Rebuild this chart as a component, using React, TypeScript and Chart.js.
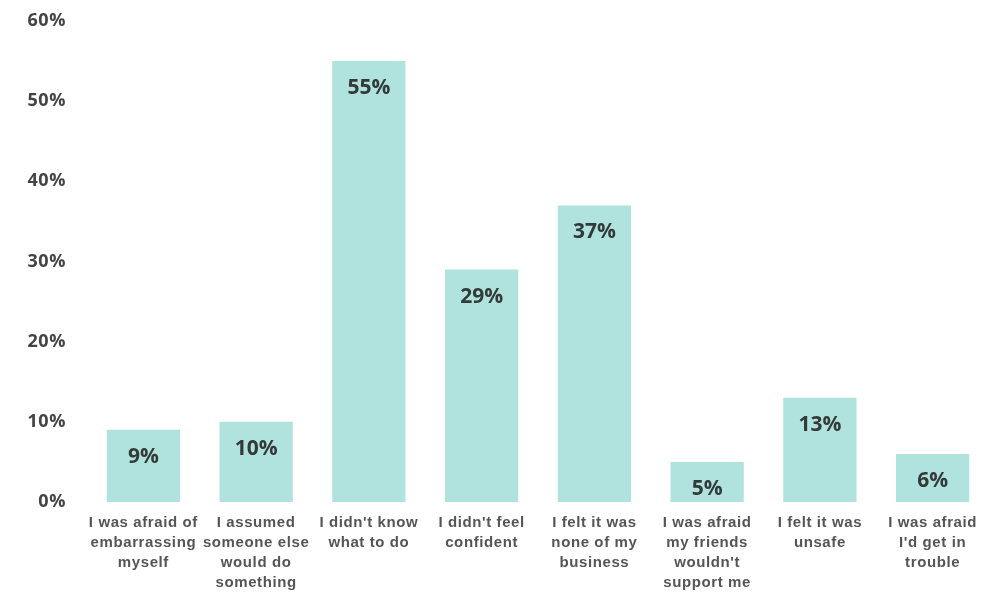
import React, { useEffect, useRef } from "react";
import { Chart, registerables } from "chart.js";

Chart.register(...registerables);

const categories: string[][] = [
  ["I was afraid of", "embarrassing", "myself"],
  ["I assumed", "someone else", "would do", "something"],
  ["I didn't know", "what to do"],
  ["I didn't feel", "confident"],
  ["I felt it was", "none of my", "business"],
  ["I was afraid", "my friends", "wouldn't", "support me"],
  ["I felt it was", "unsafe"],
  ["I was afraid", "I'd get in", "trouble"],
];

const values: number[] = [9, 10, 55, 29, 37, 5, 13, 6];

const yTicks: number[] = [0, 10, 20, 30, 40, 50, 60];

const spacingPlugin = {
  id: "spacing",
  beforeDraw(chart: any) {
    (chart.ctx as any).letterSpacing = "0.6px";
  },
};

const valueLabelPlugin = {
  id: "valueLabels",
  afterDatasetsDraw(chart: any) {
    const ctx = chart.ctx;
    const meta = chart.getDatasetMeta(0);
    ctx.save();
    (ctx as any).letterSpacing = "0px";
    ctx.font = "bold 21px 'Open Sans'";
    ctx.fillStyle = "#333a3a";
    ctx.textAlign = "center";
    ctx.textBaseline = "middle";
    meta.data.forEach((bar: any, i: number) => {
      ctx.fillText(values[i] + "%", bar.x, bar.y + 27);
    });
    ctx.restore();
  },
};

export default function App() {
  const ref = useRef<HTMLCanvasElement | null>(null);

  useEffect(() => {
    if (!ref.current) return;
    const chart = new Chart(ref.current, {
      type: "bar",
      data: {
        labels: categories,
        datasets: [
          {
            data: values,
            backgroundColor: "#b1e3de",
            barPercentage: 0.65,
            categoryPercentage: 1,
          },
        ],
      },
      options: {
        animation: false,
        responsive: false,
        maintainAspectRatio: false,
        layout: { padding: { top: 21, right: 1, left: 0, bottom: 0 } },
        plugins: {
          legend: { display: false },
          tooltip: { enabled: false },
        },
        scales: {
          x: {
            grid: { display: false, drawTicks: false },
            border: { display: false },
            ticks: {
              autoSkip: false,
              maxRotation: 0,
              minRotation: 0,
              padding: 11,
              color: "#555555",
              font: { family: "'Liberation Sans', Arial", size: 15, weight: "bold", lineHeight: 1.33 },
            },
            afterFit: (scale: any) => {
              scale.height = 90;
              scale.paddingLeft = 0;
              scale.paddingRight = 0;
            },
          },
          y: {
            min: yTicks[0],
            max: yTicks[yTicks.length - 1],
            grid: { display: false, drawTicks: false },
            border: { display: false },
            afterBuildTicks: (scale: any) => {
              scale.ticks = yTicks.map((v) => ({ value: v }));
            },
            ticks: {
              padding: 21,
              color: "#444444",
              font: { family: "'Open Sans'", size: 18, weight: "bold" },
              callback: (v: any) => v + "%",
            },
            afterFit: (scale: any) => {
              scale.width = 87;
              scale.paddingTop = 0;
              scale.paddingBottom = 0;
            },
          },
        },
      },
      plugins: [spacingPlugin, valueLabelPlugin],
    });
    return () => chart.destroy();
  }, []);

  return (
    <div style={{ position: "fixed", left: 0, top: 0, width: 990, height: 592, background: "#fff" }}>
      <canvas ref={ref} width={990} height={592} />
    </div>
  );
}
